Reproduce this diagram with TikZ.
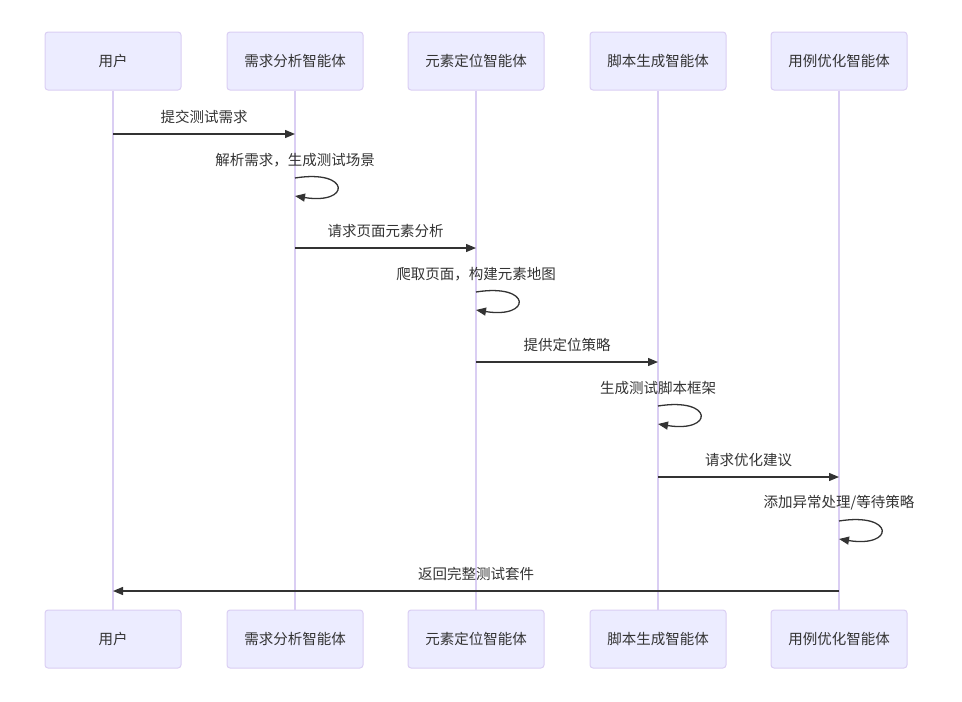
\documentclass[tikz,border=0pt]{standalone}
\usepackage{fontspec}
\setmainfont{Noto Sans CJK SC}
\usetikzlibrary{arrows.meta}

\definecolor{actfill}{HTML}{ECECFF}
\definecolor{actline}{HTML}{DACEF3}
\definecolor{txt}{HTML}{333333}

\begin{document}
\begin{tikzpicture}[x=1pt,y=-1pt,
    actor/.style={draw=actline,fill=actfill,line width=1pt,rounded corners=3pt,
        minimum width=136pt,minimum height=58pt,text=txt,
        font=\fontsize{14.5}{17}\selectfont},
    life/.style={draw=actline,line width=1.5pt},
    msg/.style={draw=txt,line width=1.3pt,-{Triangle[length=10pt,width=8pt]}},
    lbl/.style={text=txt,font=\fontsize{14.5}{17}\selectfont}]
    \useasboundingbox (0,0) rectangle (962,702);

    % participants
    \foreach \n/\x/\t in {user/113/用户, need/295/需求分析智能体, locate/476/元素定位智能体,
        script/658/脚本生成智能体, opt/839/用例优化智能体} {
        \node[actor] (\n) at (\x,61) {\t};
        \node[actor] (\n-end) at (\x,639) {\t};
        \draw[life] (\n) -- (\n-end);
    }

    % messages
    \draw[msg] (user |- 0,134) -- node[lbl,yshift=17pt] {提交测试需求} (need |- 0,134);
    \draw[msg] (need |- 0,178) node[lbl,yshift=18pt] {解析需求，生成测试场景}
        .. controls +(56,-9) and +(56,9) .. (need |- 0,196);

    \draw[msg] (need |- 0,248) -- node[lbl,yshift=17pt] {请求页面元素分析} (locate |- 0,248);
    \draw[msg] (locate |- 0,292) node[lbl,yshift=18pt] {爬取页面，构建元素地图}
        .. controls +(56,-9) and +(56,9) .. (locate |- 0,310);

    \draw[msg] (locate |- 0,362) -- node[lbl,yshift=17pt] {提供定位策略} (script |- 0,362);
    \draw[msg] (script |- 0,406) node[lbl,yshift=18pt] {生成测试脚本框架}
        .. controls +(56,-9) and +(56,9) .. (script |- 0,424);

    \draw[msg] (script |- 0,477) -- node[lbl,yshift=17pt] {请求优化建议} (opt |- 0,477);
    \draw[msg] (opt |- 0,521) node[lbl,yshift=18pt] {添加异常处理/等待策略}
        .. controls +(56,-9) and +(56,9) .. (opt |- 0,539);

    \draw[msg] (opt |- 0,591) -- node[lbl,yshift=17pt] {返回完整测试套件} (user |- 0,591);
\end{tikzpicture}
\end{document}
